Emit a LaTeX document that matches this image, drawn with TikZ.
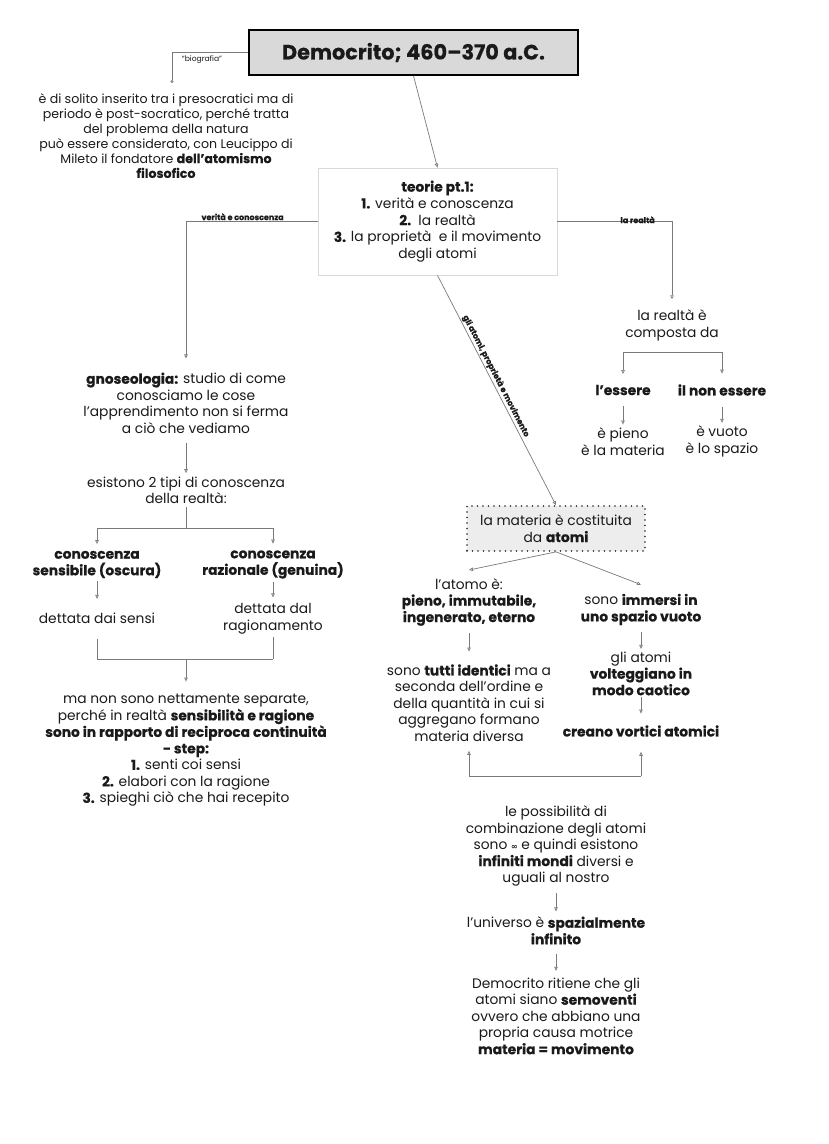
\documentclass[tikz,border=0pt]{standalone}
\usepackage{fontspec}
\setmainfont{Poppins}[BoldFeatures={FakeBold=0.5}]
\newfontfamily\symfont{DejaVu Sans}
\usetikzlibrary{arrows.meta,calc}
\definecolor{conncol}{HTML}{7A7A7A}
\definecolor{txtcol}{HTML}{1A1A1A}
\begin{document}
\begin{tikzpicture}[x=1pt,y=-1pt,
  txt/.style={align=center,inner sep=0pt,text=txtcol,font=\fontsize{13.8}{16.5}\selectfont},
  line/.style={draw=conncol,line width=0.7pt},
  conn/.style={line,-{Triangle[open,length=4pt,width=3.5pt]}},
  lbl/.style={text=txtcol,font=\bfseries\fontsize{8}{9}\selectfont,inner sep=1pt},
  titlebox/.style={draw=black,line width=1.8pt,fill=black!15,minimum width=329pt,minimum height=45pt,inner sep=0pt,text=txtcol,font=\bfseries\fontsize{20.8}{24}\selectfont}]
\useasboundingbox[fill=white] (0,0) rectangle (828,1144);

% title and biography
\node[titlebox] (title) at (413.5,52.5) {Democrito; 460–370 a.C.};
\node[txt,font=\fontsize{12.6}{14.8}\selectfont] (bio) at (166,136) {è di solito inserito tra i presocratici ma di\\ periodo è post-socratico, perché tratta\\ del problema della natura\\ può essere considerato, con Leucippo di\\ Mileto il fondatore \textbf{dell’atomismo}\\ \textbf{filosofico}};
\coordinate (bioend) at (172,83);
\draw[line,-{Circle[open,length=3pt]}] (title.west) -| (bioend);
\node[text=txtcol,font=\fontsize{7.6}{8}\selectfont,inner sep=0pt] (biolbl) at (202,60) {“biografia”};

% teorie box
\node[txt,draw=black!15,line width=0.8pt,fill=white,minimum width=239pt,minimum height=107pt,font=\fontsize{13.8}{16.75}\selectfont] (teorie) at (437.5,221.5) {\textbf{teorie pt.1:}\\ \textbf{1.} verità e conoscenza\\ \textbf{2.}\ \ la realtà\\ \textbf{3.} la proprietà\ \ e il movimento\\ degli atomi};
\draw[conn] (title.south) -- (teorie.north);

% left column
\node[txt] (gnos) at (186,403) {\textbf{gnoseologia:} studio di come\\ conosciamo le cose\\ l’apprendimento non si ferma\\ a ciò che vediamo};
\draw[conn,shorten >=14pt] (teorie.west) -| node[lbl,pos=0.285,above] (vlbl) {verità e conoscenza} (gnos.north);
\node[txt] (esist) at (186,490.5) {esistono 2 tipi di conoscenza\\ della realtà:};
\draw[conn,shorten <=9pt,shorten >=3.6pt] (gnos.south) -- (esist.north);
\node[txt] (sens) at (97,564.5) {\textbf{conoscenza}\\ \textbf{sensibile (oscura)}};
\node[txt] (raz) at (273,564.5) {\textbf{conoscenza}\\ \textbf{razionale (genuina)}};
\coordinate (b1) at (186,528);
\draw[line,shorten <=3pt] (esist.south) -- (b1);
\draw[line] (b1 -| sens.north) -- (b1 -| raz.north);
\draw[conn,shorten >=6.6pt] (b1 -| sens.north) -- (sens.north);
\draw[conn,shorten >=6.6pt] (b1 -| raz.north) -- (raz.north);
\node[txt] (dsensi) at (97,618) {dettata dai sensi};
\node[txt] (drag) at (273,618.5) {dettata dal\\ ragionamento};
\draw[conn,shorten <=3pt,shorten >=13.6pt] (sens.south) -- (dsensi.north);
\draw[conn,shorten <=3pt,shorten >=5.6pt] (raz.south) -- (drag.north);
\node[txt] (ma) at (186,750.5) {ma non sono nettamente separate,\\ perché in realtà \textbf{sensibilità e ragione}\\ \textbf{sono in rapporto di reciproca continuità}\\ \textbf{- step:}\\ \textbf{1.} senti coi sensi\\ \textbf{2.} elabori con la ragione\\ \textbf{3.} spieghi ciò che hai recepito};
\coordinate (b2) at (186,659);
\draw[line,shorten <=15pt] (dsensi.south) -- (b2 -| dsensi.south);
\draw[line,shorten <=3pt] (drag.south) -- (b2 -| drag.south);
\draw[line] (b2 -| dsensi.south) -- (b2 -| drag.south);
\draw[conn,shorten >=12.6pt] (b2) -- (ma.north);

% right column: la realta
\node[txt] (realta) at (672,325.5) {la realtà è\\ composta da};
\draw[conn,shorten >=10.6pt] (teorie.east) -| node[lbl,pos=0.35,above,inner sep=0pt,yshift=-2pt] (rlbl) {la realtà} (realta.north);
\node[txt] (essere) at (623,390) {\textbf{l’essere}};
\node[txt] (nonessere) at (722,390) {\textbf{il non essere}};
\coordinate (brk) at (672,352);
\draw[line] (brk -| essere.north) -- (brk -| nonessere.north);
\draw[conn,shorten >=10.6pt] (brk -| essere.north) -- (essere.north);
\draw[conn,shorten >=10.6pt] (brk -| nonessere.north) -- (nonessere.north);
\node[txt] (pieno) at (623,441.5) {è pieno\\ è la materia};
\node[txt] (vuoto) at (722,441.5) {è vuoto\\ è lo spazio};
\draw[conn,shorten <=11pt,shorten >=3pt] (essere.south) -- (pieno.north);
\draw[conn,shorten <=11pt,shorten >=3pt] (nonessere.south) -- (vuoto.north);

% atoms
\node[txt,draw=black!85,line width=1.7pt,dash pattern=on 0pt off 5.5pt,line cap=round,fill=black!7,minimum width=178pt,minimum height=45pt] (materia) at (556,528.5) {la materia è costituita\\ da \textbf{atomi}};
\draw[conn] (teorie.south) -- node[lbl,sloped,above,pos=0.45] (dlbl) {gli atomi, proprietà e movimento} (materia.north);
\node[txt] (atomo) at (469,602) {l’atomo è:\\ \textbf{pieno, immutabile,}\\ \textbf{ingenerato, eterno}};
\node[txt] (immersi) at (641,609.5) {sono \textbf{immersi in}\\ \textbf{uno spazio vuoto}};
\draw[conn] (materia.south) -- ([yshift=8pt]atomo.north);
\draw[conn] (materia.south) -- ([yshift=9pt]immersi.north);
\node[txt] (identici) at (469,703) {sono \textbf{tutti identici} ma a\\ seconda dell’ordine e\\ della quantità in cui si\\ aggregano formano\\ materia diversa};
\draw[conn,shorten <=7pt,shorten >=12.6pt] (atomo.south) -- (identici.north);
\node[txt] (volt) at (641,673.5) {gli atomi\\ \textbf{volteggiano in}\\ \textbf{modo caotico}};
\draw[conn,shorten <=7pt,shorten >=2.6pt] (immersi.south) -- (volt.north);
\node[txt] (vortici) at (641,731) {\textbf{creano vortici atomici}};
\draw[conn,shorten <=1.5pt,shorten >=11.6pt] (volt.south) -- (vortici.north);
\coordinate (b3) at (556,776);
\draw[line] (b3 -| identici.south) -- (b3 -| vortici.south);
\draw[conn,shorten >=9pt] (b3 -| identici.south) -- (identici.south);
\draw[conn,shorten >=15pt] (b3 -| vortici.south) -- (vortici.south);

% bottom
\node[txt] (poss) at (556,846) {le possibilità di\\ combinazione degli atomi\\ sono {\symfont\bfseries\fontsize{8}{10}\selectfont ∞} e quindi esistono\\ \textbf{infiniti mondi} diversi e\\ uguali al nostro};
\node[txt] (univ) at (556,930.5) {l’universo è \textbf{spazialmente}\\ \textbf{infinito}};
\draw[conn,shorten <=7pt,shorten >=5pt] (poss.south) -- (univ.north);
\node[txt] (demo) at (556,1016) {Democrito ritiene che gli\\ atomi siano \textbf{semoventi}\\ ovvero che abbiano una\\ propria causa motrice\\ \textbf{materia = movimento}};
\draw[conn,shorten <=9pt,shorten >=6.6pt] (univ.south) -- (demo.north);
\end{tikzpicture}
\end{document}
